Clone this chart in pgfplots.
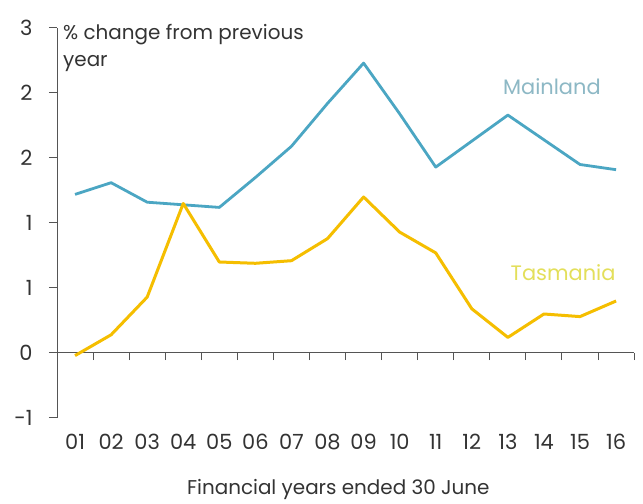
\documentclass[border=0pt]{standalone}
\usepackage{pgfplots}
\pgfplotsset{compat=1.18}
\usepackage{fontspec}
\setmainfont{Poppins}
\definecolor{mainl}{HTML}{4BA6C3}
\definecolor{tas}{HTML}{F5BE00}
\definecolor{mainlab}{HTML}{8DB8C5}
\definecolor{taslab}{HTML}{E3DF5A}
\definecolor{axg}{HTML}{555555}
\definecolor{txt}{HTML}{333333}
\begin{document}
\begin{tikzpicture}
\path[use as bounding box, fill=white] (0,0) rectangle (643bp,504bp);
\begin{axis}[
  at={(57bp,86bp)}, anchor=south west,
  x=36.07bp, y=130bp,
  xmin=-0.5, xmax=15.5, ymin=-0.5, ymax=2.5,
  axis x line=middle, axis y line=left,
  axis line style={-, draw=axg, line width=1bp},
  tick align=outside, major tick length=8bp,
  tick style={draw=axg, line width=1bp},
  ytick={-0.5,0,0.5,1,1.5,2,2.5},
  yticklabels={\mbox{-1},0,1,1,2,2,3},
  xtick={0,...,15},
  xticklabels={01,02,03,04,05,06,07,08,09,10,11,12,13,14,15,16},
  major x tick style={draw=none},
  extra x ticks={0.5,1.5,...,15.5},
  extra x tick labels={},
  extra x tick style={tick align=outside, major tick length=7bp, major x tick style={draw=axg, line width=1bp}},
  ticklabel style={font=\fontsize{21}{24}\selectfont, text=txt},
  xticklabel style={yshift=-70bp},
  yticklabel style={xshift=-13bp},
  clip=false,
]
\addplot[mainl, line width=2.8bp, line join=round] coordinates {
(0,1.22)(1,1.31)(2,1.16)(3,1.14)(4,1.12)(5,1.35)(6,1.59)(7,1.92)(8,2.23)(9,1.84)(10,1.43)(11,1.63)(12,1.83)(13,1.64)(14,1.45)(15,1.41)};
\addplot[tas, line width=3bp, line join=round] coordinates {
(0,-0.02)(1,0.14)(2,0.43)(3,1.15)(4,0.70)(5,0.69)(6,0.71)(7,0.88)(8,1.20)(9,0.93)(10,0.77)(11,0.34)(12,0.12)(13,0.30)(14,0.28)(15,0.40)};
\node[anchor=north west, align=left, text=txt, font=\fontsize{20}{27}\selectfont, inner sep=0pt] at (rel axis cs:0,1) [xshift=6bp, yshift=4bp] {\% change from previous\\year};
\node[text=mainlab, font=\fontsize{21}{24}\selectfont] at (axis cs:13.22,2.05) {Mainland};
\node[text=taslab, font=\fontsize{21}{24}\selectfont] at (axis cs:13.53,0.62) {Tasmania};
\node[text=txt, font=\fontsize{20}{24}\selectfont] at (axis cs:7.3,-0.5) [yshift=-71bp] {Financial years ended 30 June};
\end{axis}
\end{tikzpicture}
\end{document}
